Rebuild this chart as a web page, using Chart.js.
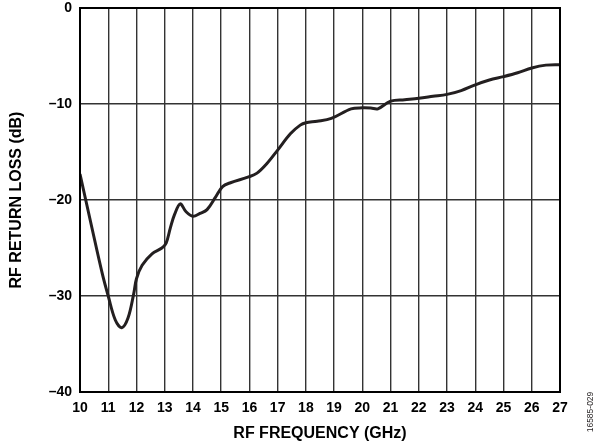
<!DOCTYPE html>
<html>
<head>
<meta charset="utf-8">
<script src="https://cdn.jsdelivr.net/npm/chart.js@4"></script>
<style>
html,body{margin:0;padding:0;background:#fff;}
#wrap{width:599px;height:448px;position:relative;}
</style>
</head>
<body>
<div id="wrap"><canvas id="c" width="599" height="448"></canvas></div>
<script>
const freqGHz = [10.0, 10.4, 10.8, 11.0, 11.25, 11.48, 11.7, 11.9, 12.0, 12.2, 12.55, 12.9, 13.05, 13.2, 13.35, 13.55, 13.75, 14.0, 14.25, 14.5, 14.8, 15.05, 15.33, 15.97, 16.27, 16.62, 17.0, 17.45, 17.8, 18.0, 18.4, 18.9, 19.6, 20.0, 20.3, 20.55, 21.0, 21.5, 22.0, 22.5, 23.0, 23.5, 24.0, 24.5, 25.0, 25.5, 26.0, 26.5, 27.0];
const returnLossDb = [-17.3, -22.6, -27.8, -30.0, -32.5, -33.3, -32.3, -29.8, -28.2, -26.8, -25.6, -25.0, -24.5, -22.9, -21.5, -20.4, -21.2, -21.7, -21.4, -21.0, -19.7, -18.6, -18.2, -17.6, -17.2, -16.2, -14.8, -13.1, -12.2, -11.95, -11.8, -11.5, -10.5, -10.4, -10.42, -10.5, -9.7, -9.55, -9.4, -9.2, -9.0, -8.6, -8.0, -7.5, -7.15, -6.75, -6.25, -5.95, -5.9];
const xTicks = [10, 11, 12, 13, 14, 15, 16, 17, 18, 19, 20, 21, 22, 23, 24, 25, 26, 27];
const yTicks = [0, -10, -20, -30, -40];
const xTitle = 'RF FREQUENCY (GHz)';
const yTitle = 'RF RETURN LOSS (dB)';
const figureId = '16585-029';

const points = freqGHz.map((f, i) => ({x: f, y: returnLossDb[i]}));
const FONT = '"Liberation Sans", Arial, sans-serif';
const INK = '#231f20';

const framePlugin = {
  id: 'frame',
  afterDatasetsDraw(chart) {
    const {ctx, chartArea: a} = chart;
    ctx.save();
    ctx.strokeStyle = '#000';
    ctx.lineWidth = 2;
    ctx.strokeRect(a.left, a.top, a.right - a.left, a.bottom - a.top);
    ctx.restore();
  },
  afterDraw(chart) {
    const {ctx} = chart;
    ctx.save();
    ctx.translate(591, 412);
    ctx.rotate(-Math.PI / 2);
    ctx.font = '8.5px ' + FONT;
    ctx.fillStyle = INK;
    ctx.textAlign = 'center';
    ctx.textBaseline = 'middle';
    ctx.fillText(figureId, 0, 0);
    ctx.restore();
  }
};

new Chart(document.getElementById('c'), {
  type: 'line',
  data: {
    datasets: [{
      data: points,
      borderColor: INK,
      borderWidth: 3,
      pointRadius: 0,
      tension: 0.35,
      fill: false
    }]
  },
  options: {
    responsive: false,
    animation: false,
    devicePixelRatio: 1,
    layout: {padding: {top: 8, right: 39, left: 0, bottom: 0}},
    plugins: {legend: {display: false}, tooltip: {enabled: false}},
    scales: {
      x: {
        type: 'linear',
        min: xTicks[0],
        max: xTicks[xTicks.length - 1],
        afterFit(s) { s.height = 56; s.paddingLeft = 0; s.paddingRight = 0; },
        afterBuildTicks(s) { s.ticks = xTicks.map(v => ({value: v})); },
        ticks: {
          padding: 8,
          color: '#000',
          font: {family: FONT, size: 14, weight: 'bold'},
          maxRotation: 0,
          autoSkip: false,
          callback: v => String(v)
        },
        grid: {color: '#333', lineWidth: 1.4, drawTicks: false},
        border: {display: false},
        title: {
          display: true,
          text: xTitle,
          color: '#000',
          font: {family: FONT, size: 16, weight: 'bold'},
          padding: {top: 0, bottom: 5}
        }
      },
      y: {
        type: 'linear',
        min: yTicks[yTicks.length - 1],
        max: yTicks[0],
        afterFit(s) { s.width = 80; s.paddingTop = 0; s.paddingBottom = 0; },
        afterBuildTicks(s) { s.ticks = yTicks.map(v => ({value: v})); },
        ticks: {
          padding: 8,
          color: '#000',
          font: {family: FONT, size: 14, weight: 'bold'},
          callback: v => (v < 0 ? '\u2013' + Math.abs(v) : String(v))
        },
        grid: {color: '#333', lineWidth: 1.4, drawTicks: false},
        border: {display: false},
        title: {
          display: true,
          text: yTitle,
          color: '#000',
          font: {family: FONT, size: 16, weight: 'bold'},
          padding: {top: 7, bottom: 0}
        }
      }
    }
  },
  plugins: [framePlugin]
});
</script>
</body>
</html>
